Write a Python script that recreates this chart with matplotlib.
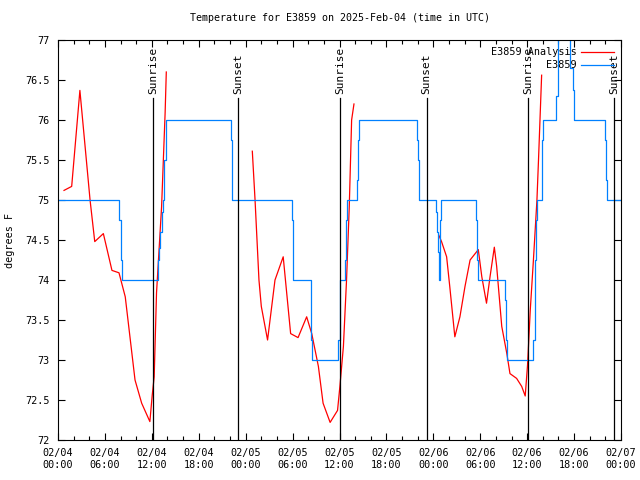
import numpy as np
import matplotlib
matplotlib.use('Agg')
import matplotlib.pyplot as plt
from matplotlib.ticker import MultipleLocator

nan = np.nan

# hours since 2025-02-04 00:00 UTC
analysis_hours = [0.77, 1.75, 2.8, 4.1, 4.7, 5.8, 6.9, 7.8, 8.6, 9.85, 10.7, 11.75,
                  12.05, 12.3, 12.6, 13.25, 13.7, 13.85,
                  nan,
                  24.85, 25.2, 25.7, 26.0, 26.8, 27.75, 28.8, 29.75, 30.7, 31.8, 32.45,
                  33.3, 33.9, 34.8, 35.75, 36.05, 36.5, 36.9, 37.25, 37.55, 37.85,
                  nan,
                  48.7, 49.05, 49.7, 50.1, 50.75, 51.4, 52.05, 52.7, 53.35, 53.75, 54.2,
                  54.8, 55.25, 55.8, 56.1, 56.75, 57.4, 57.8, 58.65, 59.3, 59.75, 60.05,
                  60.4, 60.8, 61.25, 61.45, 61.85]
analysis_vals = [75.12, 75.17, 76.37, 75.0, 74.48, 74.58, 74.12, 74.09, 73.79, 72.75, 72.46, 72.23,
                 72.56, 72.79, 73.84, 74.92, 76.09, 76.6,
                 nan,
                 75.61, 75.0, 74.0, 73.67, 73.25, 74.0, 74.29, 73.33, 73.28, 73.54, 73.33,
                 72.92, 72.46, 72.22, 72.37, 72.67, 73.17, 74.0, 74.92, 76.0, 76.2,
                 nan,
                 74.56, 74.48, 74.29, 73.92, 73.29, 73.54, 73.92, 74.25, 74.33, 74.38, 74.04,
                 73.71, 74.04, 74.41, 74.17, 73.42, 73.08, 72.83, 72.77, 72.67, 72.55, 72.94,
                 73.63, 74.25, 75.0, 75.5, 76.56]

obs_hours = [0, 7.83, 8.0, 8.14, 12.83, 12.97, 13.1, 13.25, 13.4, 13.55, 13.75,
             22.1, 22.2, 22.3, 29.9, 30.0, 30.1, 32.3, 32.4, 32.5,
             35.85, 36.0, 36.1, 36.7, 36.8, 36.95, 38.3, 38.4, 38.5,
             45.85, 46.0, 46.2, 48.3, 48.45, 48.55, 48.7, 48.8, 48.9, 49.0,
             53.5, 53.6, 53.75, 57.2, 57.3, 57.4,
             60.8, 60.95, 61.05, 61.15, 61.25, 61.85, 61.95, 62.05,
             63.75, 63.95, 65.5, 65.8, 65.95, 66.05, 70.0, 70.1, 70.2, 72]
obs_vals = [75, 74.75, 74.25, 74, 74.25, 74.4, 74.6, 74.85, 75, 75.5, 76,
            75.75, 75.25, 75, 74.75, 74.25, 74, 73.75, 73.25, 73,
            73.25, 73.75, 74, 74.25, 74.75, 75, 75.25, 75.75, 76,
            75.75, 75.5, 75, 74.85, 74.6, 74.35, 74.0, 74.3, 74.75, 75,
            74.75, 74.25, 74, 73.75, 73.25, 73,
            73.25, 73.75, 74.25, 74.75, 75, 75.25, 75.75, 76,
            76.3, 77.5, 76.65, 76.37, 76.13, 76, 75.75, 75.25, 75, 75]

sunrise_hours = [12.18, 36.1, 60.13]
sunset_hours = [23.05, 47.15, 71.15]

xtick_hours = list(range(0, 73, 6))
xtick_labels = ['02/04\n00:00', '02/04\n06:00', '02/04\n12:00', '02/04\n18:00',
                '02/05\n00:00', '02/05\n06:00', '02/05\n12:00', '02/05\n18:00',
                '02/06\n00:00', '02/06\n06:00', '02/06\n12:00', '02/06\n18:00',
                '02/07\n00:00']

plt.rcParams['font.family'] = 'DejaVu Sans Mono'
plt.rcParams['font.size'] = 7.3

fig = plt.figure(figsize=(6.4, 4.8), dpi=100)
ax = fig.add_axes([58/640, 40/480, 563/640, 400/480])

ax.plot(analysis_hours, analysis_vals, color='#ff0000', lw=0.9, label='E3859 Analysis')
ax.plot(obs_hours, obs_vals, color='#0080ff', lw=0.9, drawstyle='steps-post', label='E3859')

for h in sunrise_hours:
    ax.axvline(h, ymin=0, ymax=0.855, color='black', lw=0.9)
    ax.text(h, 0.865, 'Sunrise', rotation=90, ha='center', va='bottom', fontsize=8,
            transform=ax.get_xaxis_transform())
for h in sunset_hours:
    ax.axvline(h, ymin=0, ymax=0.855, color='black', lw=0.9)
    ax.text(h, 0.865, 'Sunset', rotation=90, ha='center', va='bottom', fontsize=8,
            transform=ax.get_xaxis_transform())

ax.set_xlim(0, 72)
ax.set_ylim(72, 77)
ax.set_xticks(xtick_hours)
ax.set_xticklabels(xtick_labels)
ax.xaxis.set_minor_locator(MultipleLocator(2))
ax.yaxis.set_major_locator(MultipleLocator(0.5))
ax.yaxis.set_major_formatter(plt.FuncFormatter(lambda v, p: '%g' % v))
ax.tick_params(which='both', direction='in', top=True, right=True, width=0.8)
ax.tick_params(which='major', length=5, pad=6)
ax.tick_params(which='minor', length=3)

ax.set_title('Temperature for E3859 on 2025-Feb-04 (time in UTC)', fontsize=7.2, pad=14)
ax.set_ylabel('degrees F', labelpad=7)

ax.legend(loc='upper right', frameon=False, markerfirst=False, handlelength=3.2,
          borderaxespad=0.3, labelspacing=0.3, handletextpad=0.5)

fig.savefig('out.png', dpi=100)
